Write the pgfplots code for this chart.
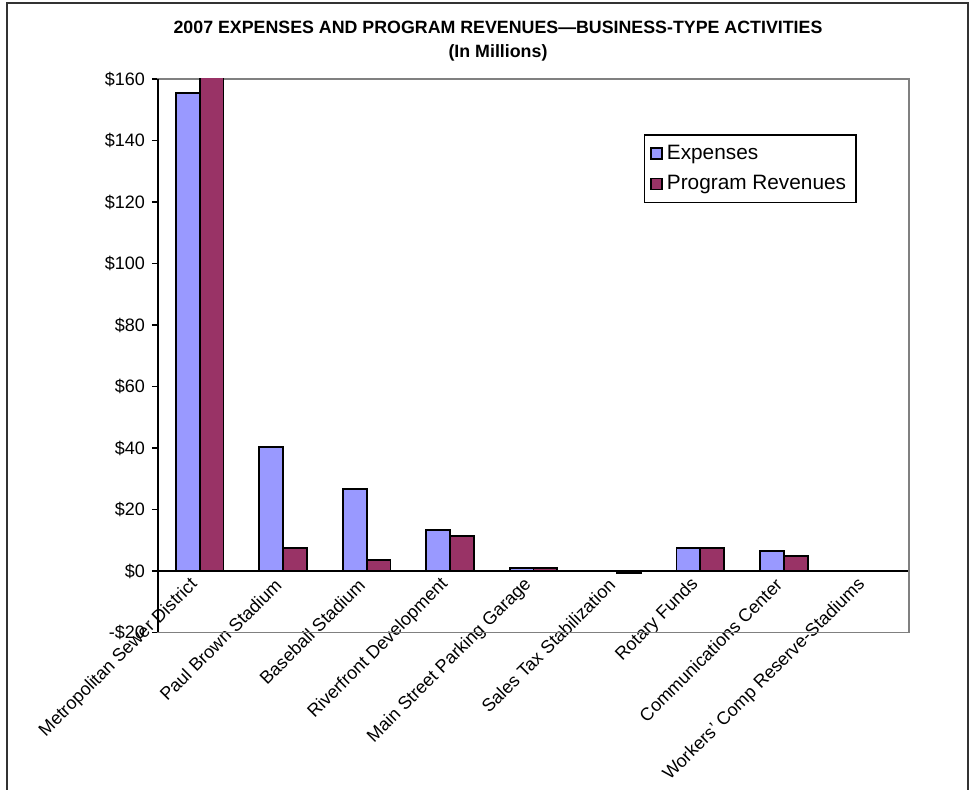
\documentclass[border=0pt]{standalone}
\usepackage{fontspec}
\setmainfont{Liberation Sans}
\usepackage{pgfplots}
\pgfplotsset{compat=1.18}
\definecolor{expblue}{HTML}{9999FF}
\definecolor{revplum}{HTML}{993366}

\begin{document}
\begin{tikzpicture}
\useasboundingbox (0,0) rectangle (485.5pt,395pt);
% chart area border
\draw[line width=1pt, black!80] (3.5pt,0) -- (3.5pt,393.5pt) -- (484pt,393.5pt) -- (484pt,0);
\node[font=\bfseries\fontsize{8.9}{10}\selectfont] at (249pt,381.5pt)
  {2007 EXPENSES AND PROGRAM REVENUES—BUSINESS-TYPE ACTIVITIES};
\node[font=\bfseries\fontsize{8.9}{10}\selectfont] at (249pt,368.5pt) {(In Millions)};

\begin{axis}[
  at={(79pt,78.75pt)}, anchor=south west,
  scale only axis, width=375.5pt, height=276.75pt,
  xmin=-0.5, xmax=8.5, ymin=-20, ymax=160,
  axis x line=middle, axis y line=left,
  axis line style={-, black, line width=0.8pt},
  hide obscured x ticks=false, hide obscured y ticks=false,
  clip mode=individual,
  ybar=0pt, bar width=0.286,
  xtick={0,...,8},
  xticklabels={Metropolitan Sewer District, Paul Brown Stadium, Baseball Stadium,
    Riverfront Development, Main Street Parking Garage, Sales Tax Stabilization,
    Rotary Funds, Communications Center, Workers' Comp Reserve-Stadiums},
  xtick style={draw=none},
  xticklabel style={rotate=45, anchor=east, font=\fontsize{9}{10}\selectfont},
  ytick={-20,0,20,...,160},
  yticklabels={-\$20,\$0,\$20,\$40,\$60,\$80,\$100,\$120,\$140,\$160},
  ytick align=outside, major tick length=3pt,
  ytick style={black, line width=0.6pt},
  yticklabel style={font=\fontsize{9}{10}\selectfont},
  /pgf/number format/assume math mode=true,
  legend style={at={(rel axis cs:0.647,0.90)}, anchor=north west, draw=black,
    line width=0.6pt, font=\fontsize{10.4}{12}\selectfont, row sep=2.5pt,
    inner xsep=3pt, inner ysep=3pt},
  legend cell align=left,
  legend image code/.code={\draw[#1, line width=0.7pt] (0pt,-2.75pt) rectangle (5.5pt,2.75pt);},
]
\draw[gray, line width=0.8pt] (rel axis cs:0,0) rectangle (rel axis cs:1,1);
\addplot[fill=expblue, draw=black, line width=0.9pt] coordinates
  {(0,155.4) (1,40.4) (2,26.6) (3,13.4) (4,1.0) (5,0) (6,7.6) (7,6.5) (8,0)};
\addplot[fill=revplum, draw=black, line width=0.9pt] coordinates
  {(0,165) (1,7.5) (2,3.7) (3,11.5) (4,1.1) (5,-0.6) (6,7.6) (7,4.9) (8,0)};
\legend{Expenses, Program Revenues}
\draw[black, line width=0.8pt] (rel axis cs:0,0) -- (rel axis cs:0,1);
\end{axis}
\end{tikzpicture}
\end{document}
